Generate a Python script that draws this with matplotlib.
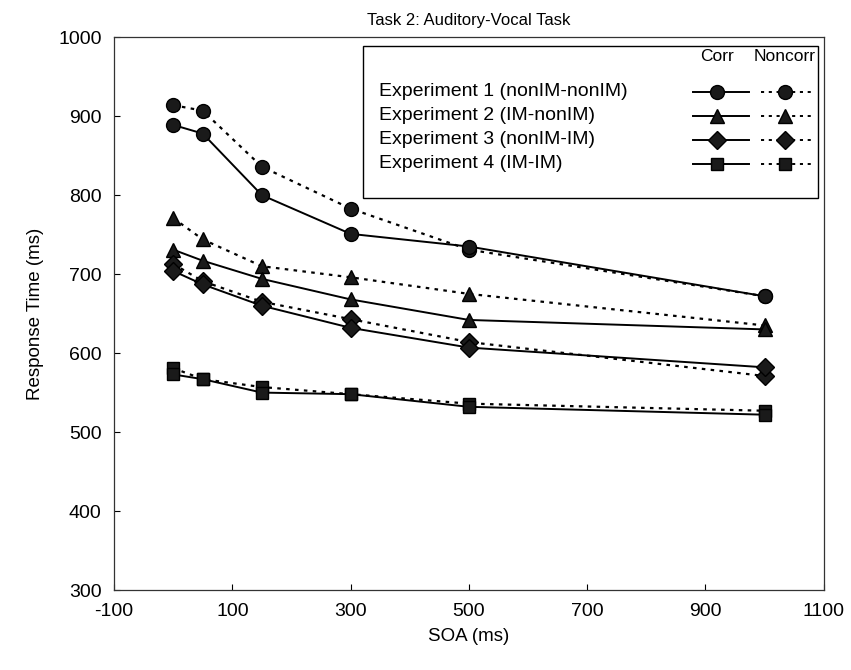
import matplotlib

matplotlib.use("Agg")
from matplotlib import pyplot as plt
from matplotlib.patches import Rectangle

plt.rcParams["font.family"] = ["Liberation Sans", "DejaVu Sans"]
plt.rcParams["axes.unicode_minus"] = False

# SOA (ms)
soa = [0, 50, 150, 300, 500, 1000]

# response times (ms), corr = solid, noncorr = dotted
exp1_corr = [889, 878, 800, 751, 735, 672]
exp1_noncorr = [914, 907, 836, 783, 731, 672]
exp2_corr = [731, 717, 694, 668, 642, 630]
exp2_noncorr = [771, 744, 710, 696, 675, 635]
exp3_corr = [704, 687, 660, 632, 607, 582]
exp3_noncorr = [713, 691, 665, 643, 614, 571]
exp4_corr = [573, 567, 550, 548, 532, 522]
exp4_noncorr = [581, 567, 557, 548, 536, 527]

labels = [
    "Experiment 1 (nonIM-nonIM)",
    "Experiment 2 (IM-nonIM)",
    "Experiment 3 (nonIM-IM)",
    "Experiment 4 (IM-IM)",
]
markers = ["o", "^", "D", "s"]
msizes = [10, 10.5, 8.8, 8.8]
corr_series = [exp1_corr, exp2_corr, exp3_corr, exp4_corr]
noncorr_series = [exp1_noncorr, exp2_noncorr, exp3_noncorr, exp4_noncorr]

DOTTED = (0, (1.6, 2.4))
MFC = "#1a1a1a"

fig = plt.figure(figsize=(8.51, 6.70), dpi=100)
ax = fig.add_axes([0.134, 0.1194, 0.834, 0.825])

for corr, noncorr, m, ms in zip(corr_series, noncorr_series, markers, msizes):
    ax.plot(soa, noncorr, color="black", linestyle=DOTTED, linewidth=1.6,
            marker=m, markersize=ms, markerfacecolor=MFC, markeredgecolor="black")
    ax.plot(soa, corr, color="black", linestyle="-", linewidth=1.4,
            marker=m, markersize=ms, markerfacecolor=MFC, markeredgecolor="black")

ax.set_xlim(-100, 1100)
ax.set_ylim(300, 1000)
ax.set_xticks(range(-100, 1101, 200))
ax.set_yticks(range(300, 1001, 100))
ax.tick_params(direction="in", length=4, width=0.8, labelsize=14, pad=9)
for sp in ax.spines.values():
    sp.set_linewidth(0.9)
    sp.set_color("#333333")

ax.set_title("Task 2: Auditory-Vocal Task", fontsize=12, pad=9)
ax.set_xlabel("SOA (ms)", fontsize=13.5, labelpad=6)
ax.set_ylabel("Response Time (ms)", fontsize=13.5, labelpad=10)

# hand-built legend box
tr = ax.transAxes
ax.add_patch(Rectangle((0.3507, 0.7093), 0.6413, 0.275, transform=tr,
                       facecolor="white", edgecolor="black", linewidth=1.0, zorder=5))
corr_x = (0.8155, 0.849, 0.8944)
noncorr_x = (0.912, 0.945, 0.983)
ax.text(corr_x[1], 0.9644, "Corr", transform=tr, ha="center", va="center",
        fontsize=12.5, zorder=6)
ax.text(noncorr_x[1], 0.9644, "Noncorr", transform=tr, ha="center", va="center",
        fontsize=12.5, zorder=6)
row_y = [0.901, 0.8576, 0.8142, 0.7708]
for y, lab, m, ms in zip(row_y, labels, markers, msizes):
    ax.text(0.374, y, lab, transform=tr, ha="left", va="center", fontsize=14, zorder=6)
    ax.plot(corr_x, [y, y, y], transform=tr, color="black", linewidth=1.4,
            marker=m, markevery=[1], markersize=ms, markerfacecolor=MFC,
            markeredgecolor="black", zorder=6, clip_on=False)
    ax.plot(noncorr_x, [y, y, y], transform=tr, color="black", linestyle=DOTTED,
            linewidth=1.4, marker=m, markevery=[1], markersize=ms, markerfacecolor=MFC,
            markeredgecolor="black", zorder=6, clip_on=False)

fig.savefig("out.png", dpi=100)
